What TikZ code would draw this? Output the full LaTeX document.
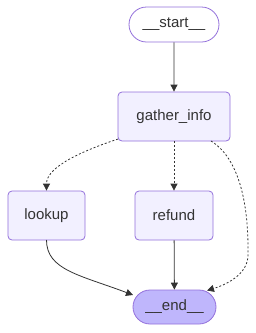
\documentclass[tikz,border=0pt]{standalone}
\usepackage{fontspec}
\setmainfont{Liberation Sans}
\usetikzlibrary{arrows.meta,shapes.misc}
\definecolor{nodefill}{HTML}{F2F0FF}
\definecolor{nodeline}{HTML}{9370DB}
\definecolor{endfill}{HTML}{BFB6FC}
\definecolor{edgecol}{HTML}{333333}
\tikzset{
  base/.style={draw=nodeline, line width=0.8pt, text=edgecol, font=\fontsize{15}{18}\selectfont, inner sep=0pt, anchor=center},
  boxnode/.style={base, fill=nodefill, rounded corners=4pt},
  termnode/.style={base, rounded rectangle, minimum height=35pt},
  edge/.style={draw=edgecol, line width=0.8pt, -{Triangle[length=7pt,width=7pt]}},
  condedge/.style={edge, dash pattern=on 2pt off 2pt},
}
\begin{document}
\begin{tikzpicture}[x=1pt,y=-1pt]
\useasboundingbox (0,0) rectangle (256,333);
\node[termnode, fill=white, minimum width=90pt] (start) at (174,24.5) {\_\_start\_\_};
\node[boxnode, minimum width=112pt, minimum height=49pt] (gather) at (174,116.5) {gather\_info};
\node[boxnode, minimum width=77pt, minimum height=49pt] (lookup) at (46.5,215.5) {lookup};
\node[boxnode, minimum width=78pt, minimum height=49pt] (refund) at (174,215.5) {refund};
\node[termnode, fill=endfill, minimum width=83pt, minimum height=34pt] (end) at (174.5,307) {\_\_end\_\_};
\coordinate (gl) at (118,139);
\coordinate (gr) at (211,141);
\coordinate (et) at (207,290.5);
\coordinate (lb) at (46.5,240);
\coordinate (el) at (133,295);
\draw[edge] (start) -- (gather);
\draw[condedge] (gl) .. controls (70,155) and (46.5,170) .. (lookup.north);
\draw[condedge] (gather) -- (refund);
\draw[condedge] (gr) .. controls (250,165) and (248,240) .. (248,255) .. controls (248,275) and (225,285) .. (et);
\draw[edge] (lb) .. controls (46.5,270) and (80,275) .. (el);
\draw[edge] (refund) -- (end);
\end{tikzpicture}
\end{document}
